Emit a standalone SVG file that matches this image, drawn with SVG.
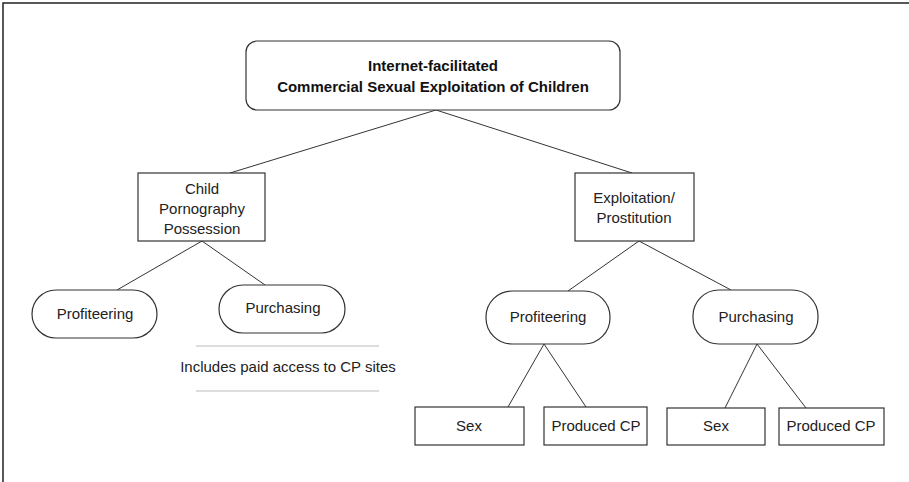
<svg xmlns="http://www.w3.org/2000/svg" width="909" height="482" viewBox="0 0 909 482">
<style>
  .box { fill: #fff; stroke: #333; stroke-width: 1.2; }
  .t { font-family: "Liberation Sans", Arial, sans-serif; font-size: 15px; fill: #222; text-anchor: middle; }
  .tb { font-family: "Liberation Sans", Arial, sans-serif; font-size: 15px; font-weight: bold; fill: #111; text-anchor: middle; }
  .conn line { stroke: #333; stroke-width: 1; }
  .frame { stroke: #222; stroke-width: 1.5; fill: none; }
  .rule { stroke: #bbb; stroke-width: 1; }
</style>
<rect width="909" height="482" fill="#fff"/>
<path class="frame" d="M3,482 V3 H909"/>
<g id="connectors" class="conn">
  <line x1="436" y1="110" x2="230" y2="173"/>
  <line x1="436" y1="110" x2="632" y2="173"/>
  <line x1="202" y1="241" x2="117" y2="290"/>
  <line x1="202" y1="241" x2="265" y2="285"/>
  <line x1="639" y1="241" x2="568" y2="291"/>
  <line x1="639" y1="241" x2="731" y2="290"/>
  <line x1="544" y1="344" x2="508" y2="407"/>
  <line x1="544" y1="344" x2="586" y2="407"/>
  <line x1="757" y1="344" x2="725" y2="408"/>
  <line x1="757" y1="344" x2="806" y2="408"/>
</g>
<g id="root">
  <rect class="box" x="246" y="41" width="374" height="69" rx="11"/>
  <text class="tb" x="433" y="71">Internet-facilitated</text>
  <text class="tb" x="433" y="92">Commercial Sexual Exploitation of Children</text>
</g>
<g id="cp-possession">
  <rect class="box" x="138" y="173" width="127" height="68"/>
  <text class="t" x="202" y="194">Child</text>
  <text class="t" x="202" y="214">Pornography</text>
  <text class="t" x="202" y="234">Possession</text>
</g>
<g id="exploitation">
  <rect class="box" x="575" y="173" width="119" height="68"/>
  <text class="t" x="634" y="203">Exploitation/</text>
  <text class="t" x="634" y="223">Prostitution</text>
</g>
<g id="cp-profiteering">
  <rect class="box" x="32" y="290" width="125" height="48" rx="24"/>
  <text class="t" x="95" y="319">Profiteering</text>
</g>
<g id="cp-purchasing">
  <rect class="box" x="219" y="285" width="126" height="48" rx="24"/>
  <text class="t" x="283" y="313">Purchasing</text>
</g>
<g id="cp-note">
  <line class="rule" x1="196" y1="346" x2="379" y2="346"/>
  <text class="t" x="288" y="372">Includes paid access to CP sites</text>
  <line class="rule" x1="196" y1="391" x2="379" y2="391"/>
</g>
<g id="ex-profiteering">
  <rect class="box" x="486" y="291" width="124" height="53" rx="26"/>
  <text class="t" x="548" y="322">Profiteering</text>
</g>
<g id="ex-purchasing">
  <rect class="box" x="693" y="290" width="125" height="54" rx="26"/>
  <text class="t" x="756" y="322">Purchasing</text>
</g>
<g id="sex-1">
  <rect class="box" x="415" y="407" width="109" height="38"/>
  <text class="t" x="469" y="431">Sex</text>
</g>
<g id="produced-cp-1">
  <rect class="box" x="544" y="407" width="103" height="38"/>
  <text class="t" x="596" y="431">Produced CP</text>
</g>
<g id="sex-2">
  <rect class="box" x="667" y="408" width="98" height="37"/>
  <text class="t" x="716" y="431">Sex</text>
</g>
<g id="produced-cp-2">
  <rect class="box" x="779" y="408" width="105" height="37"/>
  <text class="t" x="831" y="431">Produced CP</text>
</g>
</svg>
